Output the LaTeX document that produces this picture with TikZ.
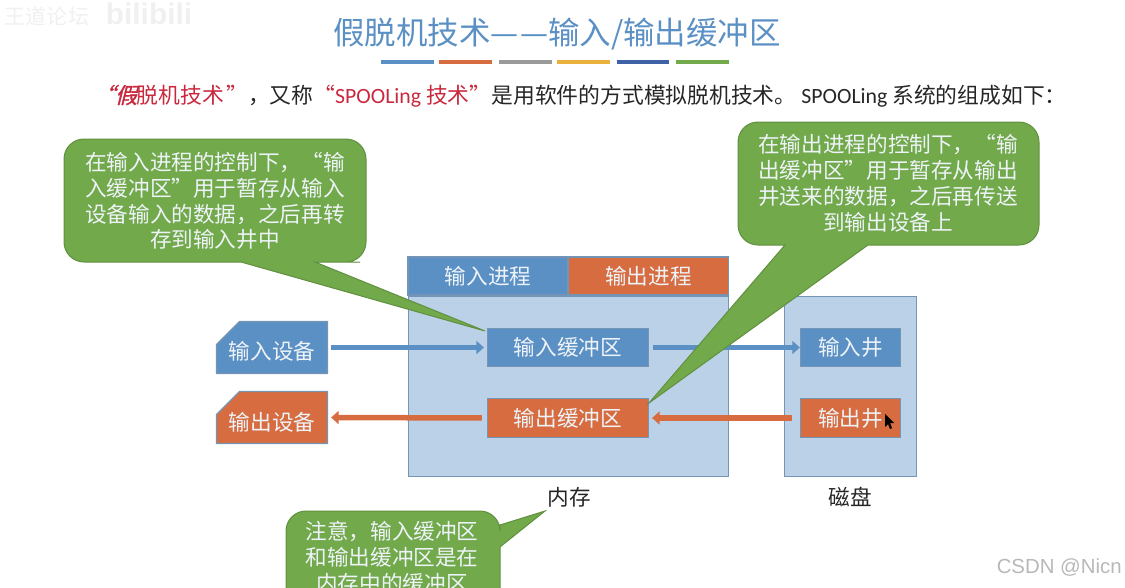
\documentclass[tikz,border=0pt]{standalone}
\usepackage{fontspec}
\usepackage{xcolor}
\usepackage{tikz}
\usetikzlibrary{arrows.meta, positioning, calc, shapes.misc}
\setmainfont{Noto Sans CJK SC}
\newfontfamily\latinfont{Carlito}
\newfontfamily\markfont{Liberation Sans}
\newfontfamily\slantfont[FakeSlant=0.25,FakeBold=1.5]{Noto Sans CJK SC}
\definecolor{inblue}{HTML}{5B90C4}
\definecolor{outorange}{HTML}{D76C40}
\definecolor{tipgreen}{HTML}{72A94B}
\definecolor{boxline}{HTML}{7495B5}
\definecolor{panelblue}{HTML}{BAD1E8}
\definecolor{redtext}{HTML}{C9283E}
\definecolor{softwhite}{HTML}{EEF3F8}
\definecolor{bargray}{HTML}{9A9A9A}
\definecolor{baryellow}{HTML}{E8B23C}
\definecolor{bardark}{HTML}{3F62A6}
\tikzset{
    boxtext/.style={font=\fontsize{12.3}{14.7}\selectfont, text=softwhite, align=center, inner sep=0pt},
    panel/.style={draw=boxline, fill=panelblue, line width=0.25mm, inner sep=0pt},
    inbox/.style={boxtext, draw=boxline, fill=inblue, line width=0.25mm},
    outbox/.style={boxtext, draw=boxline, fill=outorange, line width=0.25mm},
    snipbox/.style={chamfered rectangle, chamfered rectangle corners=north west, chamfered rectangle xsep=4.2mm, chamfered rectangle ysep=2.6mm, minimum width=22.2mm, minimum height=10.4mm},
    buffersize/.style={minimum width=32.2mm, minimum height=7.7mm},
    wellsize/.style={minimum width=20mm, minimum height=7.7mm},
    procsize/.style={minimum width=32mm, minimum height=7.6mm},
    inarrow/.style={draw=inblue, line width=1.1mm, -{Triangle[length=1.5mm, width=2.6mm, fill=inblue]}},
    outarrow/.style={draw=outorange, line width=1.1mm, -{Triangle[length=1.5mm, width=2.6mm, fill=outorange]}},
    bubble/.style={draw=tipgreen!85!black, fill=tipgreen, line width=0.2mm},
    bar/.style={line width=0.9mm, preaction={draw=black!15, transform canvas={yshift=-0.35mm}}},
    caption/.style={font=\fontsize{12.3}{14.7}\selectfont, text=black!85, inner sep=0pt},
}
\begin{document}
\begin{tikzpicture}[x=0.2mm, y=-0.2mm]
    \useasboundingbox (0, 0) rectangle (1125, 588);
    \clip (0, 0) rectangle (1125, 588);

    \node[font=\fontsize{12}{13}\selectfont, text=black!6, inner sep=0pt] (forum) at (47, 16) {王道论坛};
    \node[font=\markfont\bfseries\fontsize{17}{18}\selectfont, text=black!6, inner sep=0pt] (site) at (149, 14) {bilibili};

    \node[font=\fontsize{17.9}{20}\selectfont, text=inblue, inner sep=0pt] (title) at (557, 34) {假脱机技术—\kern0.05em—输入/输出缓冲区};
    \draw[bar, draw=inblue] (381, 62) -- (434, 62);
    \draw[bar, draw=outorange] (439, 62) -- (492, 62);
    \draw[bar, draw=bargray] (499, 62) -- (552, 62);
    \draw[bar, draw=baryellow] (557, 62) -- (610, 62);
    \draw[bar, draw=bardark] (617, 62) -- (669, 62);
    \draw[bar, draw=tipgreen] (676, 62) -- (729, 62);

    \node[anchor=west, font=\fontsize{12.4}{14}\selectfont, text=black!85, inner sep=0pt] (intro) at (93, 96) {\textcolor{redtext}{{\slantfont “假}脱机技术\kern0.1em”}，又称\textcolor{redtext}{“{\latinfont SPOOLing} 技术”}是用软件的方式模拟脱机技术。 {\latinfont SPOOLing} 系统的组成如下：};

    \node[panel, minimum width=64mm, minimum height=36mm] (memory) at (568.5, 386.5) {};
    \node[panel, minimum width=26.4mm, minimum height=36mm] (disk) at (850.5, 386.5) {};
    \node[inbox, procsize] (inproc) at (488, 276) {输入进程};
    \node[outbox, procsize] (outproc) at (648.5, 276) {输出进程};
    \node[inbox, buffersize] (inbuf) at (568, 347.5) {输入缓冲区};
    \node[outbox, buffersize] (outbuf) at (568, 418) {输出缓冲区};
    \node[inbox, wellsize] (inwell) at (850.5, 347.5) {输入井};
    \node[outbox, wellsize] (outwell) at (850.5, 418) {输出井};
    \node[inbox, snipbox] (indev) at (272, 347.5) {\raisebox{-0.8mm}[\height][\depth]{输入设备}};
    \node[outbox, snipbox] (outdev) at (272, 417.5) {\raisebox{-1mm}[\height][\depth]{输出设备}};

    \draw[inarrow, shorten <=0.6mm, shorten >=0.6mm] (indev.east) -- (inbuf.west);
    \draw[inarrow, shorten <=0.8mm] (inbuf.east) -- (inwell.west);
    \draw[outarrow, shorten <=1mm, shorten >=0.6mm] (outbuf.west) -- (outdev.east);
    \draw[outarrow, shorten <=1.6mm, shorten >=0.6mm] (outwell.west) -- (outbuf.east);

    \node[caption] (memlabel) at (569, 497) {内存};
    \node[caption] (disklabel) at (850, 497) {磁盘};

    \draw[bubble, rounded corners=4mm] (64, 139) -- (366, 139) -- (366, 262) -- (340, 262) [sharp corners] -- (315, 262) -- (485, 331) -- (241, 262) -- (200, 262) [rounded corners=4mm] -- (64, 262) -- cycle;
    \node[boxtext] (intip) at (215, 201) {在输入进程的控制下，“输\\入缓冲区”用于暂存从输入\\设备输入的数据，之后再转\\存到输入井中};

    \draw[bubble, rounded corners=4mm] (738, 122) -- (1039, 122) -- (1039, 245) -- (900, 245) [sharp corners] -- (868, 245) -- (649, 403) -- (785, 245) -- (770, 245) [rounded corners=4mm] -- (738, 245) -- cycle;
    \node[boxtext] (outtip) at (888, 183) {在输出进程的控制下，“输\\出缓冲区”用于暂存从输出\\井送来的数据，之后再传送\\到输出设备上};

    \draw[bubble, rounded corners=4mm] (286, 511) -- (500, 511) [sharp corners] -- (500, 525) -- (545, 511) -- (500, 547) -- (500, 600) [rounded corners=4mm] -- (500, 640) -- (286, 640) -- cycle;
    \node[boxtext] (memtip) at (392, 557) {注意，输入缓冲区\\和输出缓冲区是在\\内存中的缓冲区};

    \fill[black] (885, 414) -- (885, 427) -- (888, 424) -- (890, 429) -- (892, 428) -- (890, 423) -- (894, 423) -- cycle;

    \node[font=\markfont\fontsize{11.6}{13}\selectfont, text=black!28, anchor=east, inner sep=0pt] (csdn) at (1122, 568) {CSDN @Nicn};
\end{tikzpicture}
\end{document}
